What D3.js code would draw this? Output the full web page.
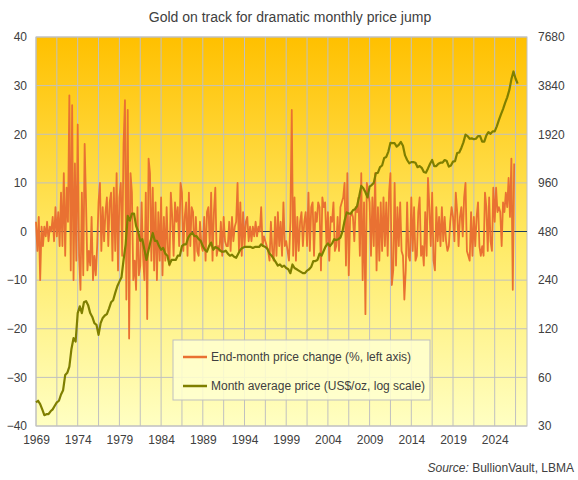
<!DOCTYPE html>
<html><head><meta charset="utf-8">
<script src="https://cdn.jsdelivr.net/npm/d3@7"></script>
<style>body{margin:0;background:#fff}text{font-family:"Liberation Sans",Arial,sans-serif;fill:#404040}</style>
</head><body><svg id="c" width="578" height="480"></svg>
<script>
const changeStart = 1969, changePerYear = 6;
const changeValues = [
2,-4,3,-10,1,-3, 1,-1,2,-2,1,0, 3,-2,5,-1,4,-3, 8,-3,12,-5,9,2,
28,-8,26,-10,14,-6, 22,-5,-12,8,-9,18, 6,-8,-4,-7,3,-10, -5,-9,-3,6,10,-4,
5,-2,4,7,-3,6, 8,-6,9,-4,12,-8, 7,10,-5,18,27,-14, 25,-22,12,8,-10,-6,
-12,5,-9,-7,6,-5, -10,8,-18,15,12,-6, 9,-8,6,-10,4,-6, 7,-9,3,-6,5,-4,
-7,8,3,-5,6,2, 5,-3,10,8,-4,3, 6,-5,8,-3,5,4, -6,3,-4,-5,2,-3,
-4,3,-6,4,5,-3, 8,-6,4,9,-5,-3, -4,2,-5,3,-2,-3, -3,2,-4,3,-2,1,
2,10,-4,6,-5,4, -3,2,3,-2,1,-2, 1,-1,2,-1,1,0, 5,-3,-1,-2,-3,-4,
-6,2,-4,-6,3,-5, 4,-3,2,-5,6,-3, -2,-4,-6,2,25,-5, 7,-6,3,-4,2,4,
-3,2,4,-3,8,-4, 5,6,-5,4,2,6, 5,-8,7,5,6,-3, 4,-6,3,2,6,-4,
-3,3,-4,5,6,7, 10,-7,12,-9,3,4, 3,-2,5,4,7,-5, 12,-10,6,-17,10,8,
6,-5,7,-3,12,-8, 5,-6,6,-4,7,-3, 6,-5,8,12,-11,-8, 10,-7,5,-3,6,-4,
-5,-14,-8,6,-5,-6, 7,-4,5,-6,-5,4, 7,-5,-3,-7,4,-5, 11,5,-3,8,-6,-8,
5,-2,3,-3,5,-2, 3,-2,-4,-3,2,5, 3,-2,8,4,-3,3, 5,-1,7,10,-4,-5,
-6,4,-5,3,-3,3, 6,-3,-5,-3,-5,8, 5,-4,7,-2,-4,9, 2,9,4,5,4,-3,
6,4,8,5,11,3, 15,-12,14];
const priceStart = 1969, pricePerYear = 4;
const priceValues = [
42,43,41,38, 35,35.5,35.5,37, 38,40,42,43, 47,50,62,64, 70,90,105,100,
150,165,150,175, 178,168,150,142, 130,127,110,130, 140,145,148,160, 175,180,200,220,
235,250,320,400, 600,560,620,620, 520,480,420,430, 370,320,370,420, 470,420,420,390,
370,380,350,340, 300,320,320,320, 340,340,390,400, 400,440,460,470, 450,450,430,420,
390,370,360,390, 410,370,385,380, 370,360,360,365, 350,340,345,335, 330,350,370,380,
385,385,385,385, 380,385,385,385, 400,390,385,375, 350,340,325,310, 295,300,290,295,
285,280,265,300, 285,280,275,270, 265,265,275,280, 290,315,315,320, 350,340,365,390,
405,390,405,430, 425,430,440,480, 560,630,620,620, 650,660,690,790, 920,890,840,780,
910,930,960,1100, 1110,1200,1230,1370, 1390,1500,1700,1690, 1690,1610,1650,1720, 1630,1420,1330,1270,
1290,1290,1280,1200, 1220,1190,1120,1110, 1180,1260,1330,1220, 1220,1260,1280,1280, 1330,1310,1210,1230,
1300,1310,1470,1480, 1580,1710,1910,1870, 1800,1810,1790,1800, 1870,1870,1730,1730, 1890,1980,1930,2000,
2000,2150,2350,2550, 2750,3000,3250,3600, 4200,4700,4250,3950];
const xTickYears = [1969,1974,1979,1984,1989,1994,1999,2004,2009,2014,2019,2024];
const leftTicks = [40,30,20,10,0,-10,-20,-30,-40];
const rightTicks = [30,60,120,240,480,960,1920,3840,7680];

const svg = d3.select("#c");
const L=36,R=527,T=37,B=426;
const x = d3.scaleLinear().domain([1969,1969+(R-L)/8.34]).range([L,R]);
const y = d3.scaleLinear().domain([-40,40]).range([B,T]);
const y2 = d3.scaleLog().base(2).domain([30,7680]).range([B,T]);

const defs = svg.append("defs");
const g = defs.append("linearGradient").attr("id","bg").attr("x1",0).attr("x2",0).attr("y1",0).attr("y2",1);
g.append("stop").attr("offset","0%").attr("stop-color","#FFC000");
g.append("stop").attr("offset","55%").attr("stop-color","#FFEB6A");
g.append("stop").attr("offset","100%").attr("stop-color","#FFFFC2");
svg.append("rect").attr("x",L).attr("y",T).attr("width",R-L).attr("height",B-T).attr("fill","url(#bg)");

const vg = d3.range(1969, x.domain()[1], 2.5);
svg.append("g").selectAll("line").data(vg).join("line")
 .attr("x1",d=>x(d)).attr("x2",d=>x(d)).attr("y1",T).attr("y2",B).attr("stroke","#C0C0C0").attr("stroke-width",1);
svg.append("g").selectAll("line").data(leftTicks).join("line")
 .attr("x1",L).attr("x2",R).attr("y1",d=>y(d)).attr("y2",d=>y(d)).attr("stroke","#C0C0C0").attr("stroke-width",1);
svg.append("rect").attr("x",L).attr("y",T).attr("width",R-L).attr("height",B-T).attr("fill","none").attr("stroke","#C0C0C0");

const ax = svg.append("g").attr("transform",`translate(0,${B})`).call(d3.axisBottom(x).tickValues(xTickYears).tickFormat(d3.format("d")).tickSize(0).tickPadding(9));
const ay = svg.append("g").attr("transform",`translate(${L},0)`).call(d3.axisLeft(y).tickValues(leftTicks).tickSize(0).tickPadding(9));
const ay2 = svg.append("g").attr("transform",`translate(${R},0)`).call(d3.axisRight(y2).tickValues(rightTicks).tickFormat(d3.format("d")).tickSize(0).tickPadding(11));
[ax,ay,ay2].forEach(a=>{a.select(".domain").remove();a.selectAll("text").attr("font-size",12).attr("fill","#404040").style("font-family","Liberation Sans, Arial, sans-serif");});

svg.append("line").attr("x1",L).attr("x2",R).attr("y1",y(0)).attr("y2",y(0)).attr("stroke","#1F3F5F").attr("stroke-width",1);

svg.append("path").datum(changeValues).attr("fill","none").attr("stroke","#E97132").attr("stroke-width",1.8).attr("stroke-linejoin","round")
 .attr("d",d3.line().x((d,i)=>x(changeStart+i/changePerYear)).y(d=>y(d)));
svg.append("path").datum(priceValues).attr("fill","none").attr("stroke","#7F7F00").attr("stroke-width",2.2).attr("stroke-linejoin","round")
 .attr("d",d3.line().x((d,i)=>x(priceStart+i/pricePerYear)).y(d=>y2(d)));

const lg = svg.append("g");
lg.append("rect").attr("x",173).attr("y",340).attr("width",257).attr("height",60).attr("fill","#FFFFD0").attr("fill-opacity",0.85).attr("stroke","#BFBFBF");
const leg = [["End-month price change (%, left axis)","#E97132",357],["Month average price (US$/oz, log scale)","#7F7F00",386]];
leg.forEach(([t,c,yy])=>{
 lg.append("line").attr("x1",183).attr("x2",207).attr("y1",yy).attr("y2",yy).attr("stroke",c).attr("stroke-width",2.5);
 lg.append("text").attr("x",211).attr("y",yy+4).attr("font-size",12).text(t);
});

svg.append("text").attr("x",290).attr("y",22).attr("text-anchor","middle").attr("font-size",14).text("Gold on track for dramatic monthly  price jump");
const s = svg.append("text").attr("x",574).attr("y",472).attr("text-anchor","end").attr("font-size",12);
s.append("tspan").attr("font-style","italic").text("Source:");
s.append("tspan").text(" BullionVault, LBMA");
</script></body></html>
